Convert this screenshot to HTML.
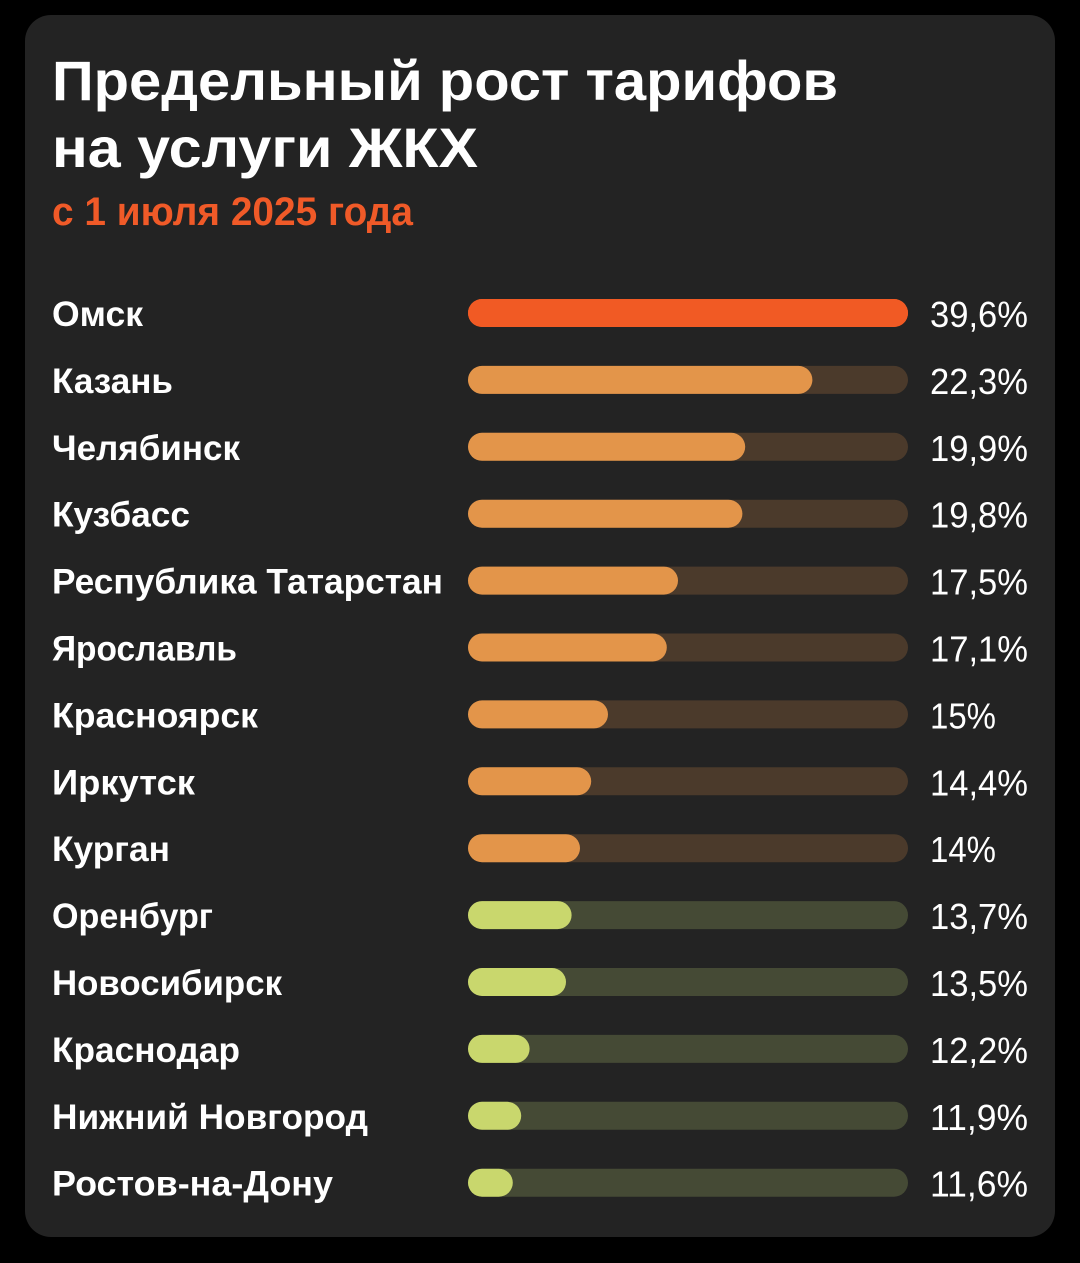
<!DOCTYPE html>
<html><head><meta charset="utf-8"><style>
html,body{margin:0;padding:0;background:#000;}
svg{display:block;}
</style></head><body>
<svg id="chart" width="1080" height="1263" viewBox="0 0 1080 1263" xmlns="http://www.w3.org/2000/svg">
<rect width="1080" height="1263" fill="#000"/>
<rect x="25" y="15" width="1030" height="1222" rx="26" fill="#232323"/>
<text x="52" y="100" font-family="Liberation Sans, sans-serif" font-weight="bold" font-size="56" fill="#fff" textLength="786" lengthAdjust="spacingAndGlyphs">Предельный рост тарифов</text>
<text x="52" y="167" font-family="Liberation Sans, sans-serif" font-weight="bold" font-size="56" fill="#fff" textLength="426" lengthAdjust="spacingAndGlyphs">на услуги ЖКХ</text>
<text x="52" y="225" font-family="Liberation Sans, sans-serif" font-weight="bold" font-size="40" fill="#f05a28" textLength="361" lengthAdjust="spacingAndGlyphs">с 1 июля 2025 года</text>
<g id="rows"></g>
</svg>
<script>
const cities = ["Омск","Казань","Челябинск","Кузбасс","Республика Татарстан","Ярославль","Красноярск","Иркутск","Курган","Оренбург","Новосибирск","Краснодар","Нижний Новгород","Ростов-на-Дону"];
const values = [39.6,22.3,19.9,19.8,17.5,17.1,15,14.4,14,13.7,13.5,12.2,11.9,11.6];
const valueLabels = ["39,6%","22,3%","19,9%","19,8%","17,5%","17,1%","15%","14,4%","14%","13,7%","13,5%","12,2%","11,9%","11,6%"];
const labelWidths = [91,121,188,138,391,185,206,143,118,161,230,188,316,281];

const trackX = 468, trackW = 440, barH = 28, row0 = 313, rowStep = 66.9;
function xScale(v){ return Math.max(barH, Math.min(trackW, (v - 10) * 28)); }
function yScale(i){ return row0 + i * rowStep; }
function colors(v){
  if (v >= 30) return ["#f15a24","#f15a24"];
  if (v >= 14) return ["#e3954a","#4b3a2b"];
  return ["#c9d76d","#454a35"];
}
const NS = "http://www.w3.org/2000/svg";
const g = document.getElementById("rows");
cities.forEach((c, i) => {
  const cy = yScale(i);
  const [fill, track] = colors(values[i]);
  const lab = document.createElementNS(NS, "text");
  
  
  lab.setAttribute("x", 52); lab.setAttribute("y", cy + 13);
  lab.setAttribute("font-family", "Liberation Sans, sans-serif");
  lab.setAttribute("font-weight", "bold"); lab.setAttribute("font-size", "35");
  lab.setAttribute("fill", "#fff");
  lab.setAttribute("textLength", labelWidths[i]);
  lab.setAttribute("lengthAdjust", "spacingAndGlyphs");
  lab.textContent = c; g.appendChild(lab);

  const tr = document.createElementNS(NS, "rect");
  
  
  tr.setAttribute("x", trackX); tr.setAttribute("y", cy - barH/2);
  tr.setAttribute("width", trackW); tr.setAttribute("height", barH);
  tr.setAttribute("rx", barH/2); tr.setAttribute("fill", track);
  g.appendChild(tr);

  const b = document.createElementNS(NS, "rect");
  
  
  b.setAttribute("x", trackX); b.setAttribute("y", cy - barH/2);
  b.setAttribute("width", xScale(values[i])); b.setAttribute("height", barH);
  b.setAttribute("rx", barH/2); b.setAttribute("fill", fill);
  g.appendChild(b);

  const vt = document.createElementNS(NS, "text");
  
  
  vt.setAttribute("x", 930); vt.setAttribute("y", cy + 14);
  vt.setAttribute("font-family", "Liberation Sans, sans-serif");
  vt.setAttribute("font-size", "36"); vt.setAttribute("fill", "#fff");
  vt.setAttribute("textLength", valueLabels[i].length > 3 ? 98 : 66);
  vt.setAttribute("lengthAdjust", "spacingAndGlyphs");
  vt.textContent = valueLabels[i]; g.appendChild(vt);
});
</script>
</body></html>
